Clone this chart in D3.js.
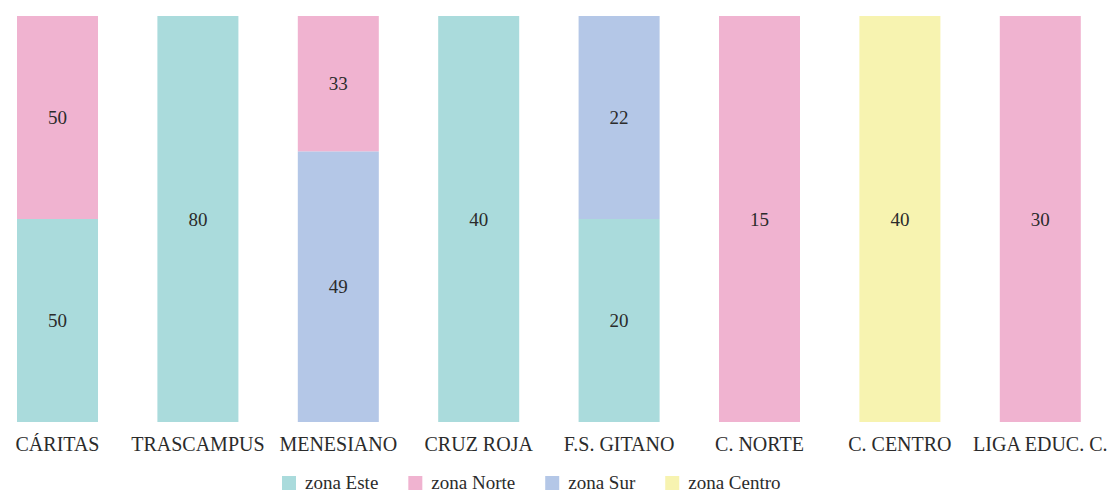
<!DOCTYPE html>
<html>
<head>
<meta charset="utf-8">
<script src="https://cdn.jsdelivr.net/npm/d3@7"></script>
<style>
  body { margin: 0; background: #fff; }
</style>
</head>
<body>
<div id="chart"></div>
<script>
const categories = ["CÁRITAS", "TRASCAMPUS", "MENESIANO", "CRUZ ROJA", "F.S. GITANO", "C. NORTE", "C. CENTRO", "LIGA EDUC. C."];
const zones = ["zona Este", "zona Norte", "zona Sur", "zona Centro"];

// printed labels per zone (null = no segment)
const este   = [50, 80, null, 40, 20, null, null, null];
const norte  = [50, null, 33, null, null, 15, null, 30];
const sur    = [null, null, 49, null, 22, null, null, null];
const centro = [null, null, null, null, null, null, 40, null];

// relative segment height as drawn in the reference
const esteShare   = [1, 1, 0, 1, 1, 0, 0, 0];
const norteShare  = [1, 0, 1, 0, 0, 1, 0, 1];
const surShare    = [0, 0, 2, 0, 1, 0, 0, 0];
const centroShare = [0, 0, 0, 0, 0, 0, 1, 0];

const colors = ["#aadbdc", "#f0b3d0", "#b4c7e7", "#f7f3b0"];

const FONT = "'Liberation Serif', 'Times New Roman', serif";
const INK = "#2b2b2b";

const W = 1118, H = 492;
const svg = d3.select("#chart").append("svg").attr("width", W).attr("height", H);

const labels = [este, norte, sur, centro];
const shares = [esteShare, norteShare, surShare, centroShare];

// stacking order bottom -> top: Este, Sur, Norte, Centro
const order = [0, 2, 1, 3];

const rows = categories.map((c, i) => {
  const r = { cat: c };
  order.forEach(z => { r[z] = shares[z][i]; });
  return r;
});

const stack = d3.stack().keys(order).offset(d3.stackOffsetExpand);
const series = stack(rows);

const x = d3.scaleBand().domain(categories).range([17, 1080.8]).paddingInner(0.423).paddingOuter(0);
const y = d3.scaleLinear().domain([0, 1]).range([422, 16]);
const color = d3.scaleOrdinal().domain([0, 1, 2, 3]).range(colors);

const g = svg.append("g");
series.forEach(s => {
  const z = s.key;
  const grp = g.append("g");
  s.forEach((d, i) => {
    if (!shares[z][i]) return;
    grp.append("rect")
      .attr("x", x(categories[i]))
      .attr("y", y(d[1]))
      .attr("width", x.bandwidth())
      .attr("height", y(d[0]) - y(d[1]))
      .attr("fill", color(z));
    grp.append("text")
      .attr("x", x(categories[i]) + x.bandwidth() / 2)
      .attr("y", (y(d[0]) + y(d[1])) / 2)
      .attr("dy", "0.35em")
      .attr("text-anchor", "middle")
      .style("font-family", FONT)
      .style("font-size", "19px")
      .style("fill", INK)
      .text(labels[z][i]);
  });
});

// bottom axis
svg.append("g")
  .attr("transform", "translate(0, 422)")
  .call(d3.axisBottom(x).tickSize(0).tickPadding(15))
  .call(a => a.select(".domain").remove())
  .call(a => a.selectAll("text")
    .style("font-size", "20px")
    .style("font-family", FONT)
    .attr("fill", INK));

// legend
const legend = svg.append("g").attr("transform", "translate(282, 475)");
let lx = 0;
zones.forEach((z, i) => {
  const item = legend.append("g").attr("transform", `translate(${lx}, 0)`);
  item.append("rect").attr("y", 1).attr("width", 14).attr("height", 14).attr("fill", colors[i]);
  const t = item.append("text")
    .attr("x", 23)
    .attr("y", 8)
    .attr("dy", "0.3em")
    .style("font-family", FONT)
    .style("font-size", "19px")
    .style("fill", INK)
    .text(z);
  lx += 23 + t.node().getComputedTextLength() + 30;
});
</script>
</body>
</html>
